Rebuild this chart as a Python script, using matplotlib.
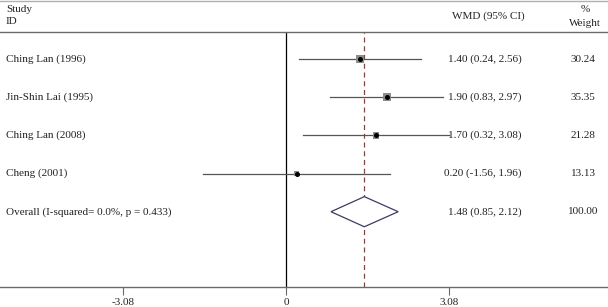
import matplotlib
matplotlib.use("Agg")
import matplotlib.pyplot as plt
import numpy as np
from matplotlib.patches import Polygon, Rectangle

studies = ["Ching Lan (1996)", "Jin-Shin Lai (1995)", "Ching Lan (2008)", "Cheng (2001)"]
wmd = [1.40, 1.90, 1.70, 0.20]
lower = [0.24, 0.83, 0.32, -1.56]
upper = [2.56, 2.97, 3.08, 1.96]
weights = [30.24, 35.35, 21.28, 13.13]
overall_label = "Overall (I-squared= 0.0%, p = 0.433)"
overall = [1.48, 0.85, 2.12]
overall_weight = 100.00
ticks = [-3.08, 0, 3.08]
tick_labels = ["-3.08", "0", "3.08"]

W, H = 608, 307
fig = plt.figure(figsize=(W / 100, H / 100), dpi=100)
plt.rcParams['font.family'] = ['Liberation Serif', 'DejaVu Serif']
FS = 8
TC = "#222222"

# plot area: y from 32px to 287px, x full width
ax = fig.add_axes([0, (H - 287) / H, 1, (287 - 32) / H])
px_per_unit = 163 / 3.08
x0 = 286
ax.set_xlim(-x0 / px_per_unit, (W - x0) / px_per_unit)
row_px = 38.0
ax.set_ylim(4 + (287 - 212) / row_px, -(59 - 32) / row_px)

for s in ["top", "right", "left"]:
    ax.spines[s].set_visible(False)
ax.spines["bottom"].set_color("#6a6a6a")
ax.spines["bottom"].set_linewidth(1.0)
ax.set_yticks([])
ax.set_xticks(ticks)
ax.set_xticklabels(tick_labels, fontsize=FS, color=TC)
ax.tick_params(axis="x", direction="out", length=6, width=0.8, color="#6a6a6a", pad=2)

ax.axvline(0, color="black", lw=0.9, zorder=2)
ax.axvline(overall[0], color="#9a3a3a", lw=0.9, ls=(0, (4, 3)), zorder=2)

ux = 1 / px_per_unit
uy = 1 / row_px
for i, (m, lo, hi, w) in enumerate(zip(wmd, lower, upper, weights)):
    ax.plot([lo, hi], [i, i], color="#555555", lw=0.9, zorder=3)
    side = 1.35 * np.sqrt(w)
    ax.add_patch(Rectangle((m - side / 2 * ux, i - side / 2 * uy), side * ux, side * uy,
                           facecolor="#8c8c8c", edgecolor="none", zorder=4))
    ax.plot([m], [i], marker="o", ms=2.6, color="black", zorder=5)

yi = len(studies)
hh = 15 * uy
dia = Polygon([[overall[1], yi], [overall[0], yi - hh], [overall[2], yi], [overall[0], yi + hh]],
              closed=True, facecolor="white", edgecolor="#3c3c64", lw=0.9, zorder=4)
ax.add_patch(dia)


def fx(px):
    return px / W


def fy(py):
    return 1 - py / H


labels = studies + [overall_label]
cis = ["%.2f (%.2f, %.2f)" % (m, lo, hi) for m, lo, hi in zip(wmd, lower, upper)]
cis.append("%.2f (%.2f, %.2f)" % tuple(overall))
wts = ["%.2f" % w for w in weights] + ["%.2f" % overall_weight]
row_y = [59 + i * 38.2 for i in range(len(labels))]
for lab, ci, wt, y in zip(labels, cis, wts, row_y):
    fig.text(fx(6), fy(y), lab, fontsize=FS, va="center", ha="left", color=TC)
    fig.text(fx(522), fy(y), ci, fontsize=FS, va="center", ha="right", color=TC)
    fig.text(fx(583), fy(y), wt, fontsize=FS, va="center", ha="center", color=TC)

fig.text(fx(6), fy(10), "Study", fontsize=FS, va="center", ha="left", color=TC)
fig.text(fx(6), fy(22), "ID", fontsize=FS, va="center", ha="left", color=TC)
fig.text(fx(452), fy(16), "WMD (95% CI)", fontsize=FS, va="center", ha="left", color=TC)
fig.text(fx(585), fy(10), "%", fontsize=FS, va="center", ha="center", color=TC)
fig.text(fx(585), fy(23), "Weight", fontsize=FS, va="center", ha="center", color=TC)

fig.add_artist(plt.Line2D([0, 1], [fy(1), fy(1)], color="#b0b0b0", lw=1.0))
fig.add_artist(plt.Line2D([0, 1], [fy(32), fy(32)], color="#6a6a6a", lw=1.0))

fig.savefig("out.png", dpi=100)
